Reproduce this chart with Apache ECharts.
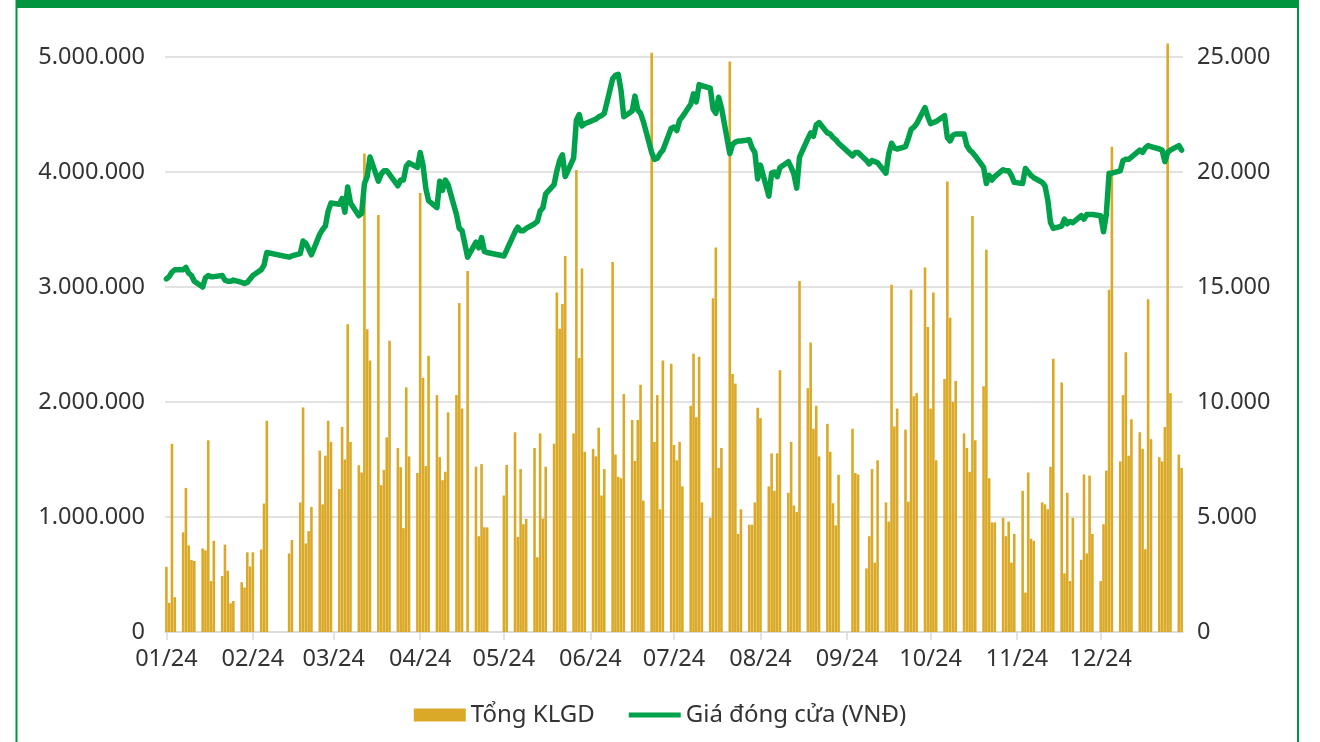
<!DOCTYPE html>
<html>
<head>
<meta charset="utf-8">
<script src="https://cdn.jsdelivr.net/npm/echarts@6/dist/echarts.min.js"></script>
<style>
html,body{margin:0;padding:0;background:#fff;}
#c{width:1320px;height:742px;}
</style>
</head>
<body>
<div id="c"></div>
<script>
// ---- DATA (trading days only, per month, 2024) ----
const seriesNames = ['Tổng KLGD', 'Giá đóng cửa (VNĐ)'];
const holidays = ['2024-02-08','2024-02-09','2024-02-12','2024-02-13','2024-02-14','2024-04-18','2024-04-29','2024-04-30','2024-05-01','2024-09-02','2024-09-03'];
const startDate = '2024-01-02';
const endDate = '2024-12-31';

// Total matched volume (shares)
const volJan = [567000,253000,1637000,303000,867000,1253000,753000,627000,617000,727000,710000,1667000,443000,793000,487000,760000,533000,250000,270000,433000,387000,693000];
const volFeb = [570000,693000,717000,1117000,1837000,683000,800000,1127000,1953000,770000,877000,1087000,1577000,1110000,1533000,1837000];
const volMar = [1653000,1243000,1783000,1500000,2677000,1653000,1450000,1387000,4160000,2633000,2360000,3627000,1277000,1410000,1693000,2533000,1600000,1433000,903000,2127000,1527000];
const volApr = [1383000,3817000,2210000,1443000,2403000,2060000,1520000,1320000,1393000,1910000,2060000,2860000,1943000,3140000,1437000,833000,1460000,910000,910000];
const volMay = [1187000,1453000,1737000,827000,1417000,937000,983000,1600000,650000,1727000,987000,1437000,1637000,2953000,2637000,2853000,3270000,1727000,4017000,2383000,3160000,1567000];
const volJun = [1593000,1527000,1777000,1187000,1417000,3217000,1543000,1350000,1337000,2070000,1843000,1487000,1843000,2150000,1143000,5037000,1653000,2060000,1067000,2360000];
const volJul = [2333000,1627000,1493000,1653000,1267000,1967000,2420000,1867000,2393000,1127000,993000,2903000,3343000,1427000,1600000,4960000,2243000,2160000,853000,1067000,933000,933000,1127000];
const volAug = [1950000,1860000,1267000,1553000,1227000,1553000,2277000,1210000,1653000,1100000,1043000,3053000,2120000,2517000,1767000,1967000,1527000,1810000,1567000,1120000,927000,1367000];
const volSep = [1767000,1383000,1370000,553000,833000,1417000,603000,1493000,1127000,960000,3020000,1787000,1943000,1760000,1133000,2977000,2050000,2077000,3170000];
const volOct = [2653000,1943000,2953000,1493000,2200000,3917000,2733000,2000000,2183000,1727000,1600000,1393000,3617000,1667000,2137000,3323000,1337000,953000,953000,993000,833000,960000,603000];
const volNov = [853000,1227000,343000,1387000,810000,793000,1127000,1110000,1067000,1437000,2377000,2170000,510000,1210000,443000,993000,627000,1370000,683000,1360000,853000];
const volDec = [443000,937000,1403000,2977000,4220000,1483000,2060000,2433000,1533000,1850000,1737000,1593000,720000,2893000,1677000,1520000,1483000,1783000,5117000,2077000,1543000,1427000];

// Closing price (VND)
const pxJan = [15350,15450,15650,15750,15750,15850,15600,15500,15250,15000,15400,15500,15450,15450,15500,15300,15250,15250,15300,15200,15150,15200];
const pxFeb = [15350,15500,15750,15950,16500,16300,16350,16450,17000,16900,16650,16400,17300,17500,17650,18300];
const pxMar = [18650,18600,18850,18250,19350,18650,18100,18200,19500,19800,20650,19600,19900,20050,20050,19900,19400,19650,19650,20250,20400];
const pxApr = [20200,20850,20300,19300,18750,18450,19600,19200,19650,19450,18150,17550,17450,16300,16950,16700,17150,16550,16500];
const pxMay = [16350,16600,17400,17600,17450,17450,17550,17750,17850,18300,18450,19050,19450,20050,20500,20750,19800,20600,22250,22500,22000,22100];
const pxJun = [22250,22300,22400,22450,22550,24050,24200,24250,23550,22400,22650,23300,22700,22550,22200,20850,20550,20600,20800,20950];
const pxJul = [21900,21950,21800,22250,22400,22950,23400,23050,23800,23750,23650,22750,22550,23250,22800,20800,21200,21300,21350,21350,21400,21050,20850];
const pxAug = [19700,20300,18950,19950,20000,19800,20200,20450,20200,19900,19300,20650,21450,21700,21550,22050,22150,21700,21650,21500,21400,21250];
const pxSep = [20700,20850,20850,20500,20350,20500,20450,20400,19950,20800,21250,21050,21000,21100,21450,21850,21950,22100,22800];
const pxOct = [22400,22100,22150,22200,22450,21500,21350,21600,21650,21650,21150,20950,20850,20700,20200,19500,19850,19650,19800,20100,20050,20050,19850];
const pxNov = [19550,19500,20150,20000,19850,19750,19550,19400,18800,17800,17550,17650,17950,17750,17850,17800,18100,17950,18150,18150,18150];
const pxDec = [18100,17400,18150,19950,19950,20050,20500,20550,20550,20650,20950,20850,21050,21150,21100,21000,20950,20450,20850,20950,21150,20950];

const leftTicks = [0, 1000000, 2000000, 3000000, 4000000, 5000000];
const rightTicks = [0, 5000, 10000, 15000, 20000, 25000];

// ---- build calendar-day category axis ----
const volByMonth = [volJan,volFeb,volMar,volApr,volMay,volJun,volJul,volAug,volSep,volOct,volNov,volDec];
const pxByMonth = [pxJan,pxFeb,pxMar,pxApr,pxMay,pxJun,pxJul,pxAug,pxSep,pxOct,pxNov,pxDec];
function pad(n){return n<10?'0'+n:''+n;}
const categories = [], volData = [], pxData = [];
const counters = new Array(12).fill(0);
{
  const d = new Date(startDate + 'T00:00:00Z');
  const end = new Date(endDate + 'T00:00:00Z');
  while (d <= end) {
    const y = d.getUTCFullYear(), m = d.getUTCMonth(), day = d.getUTCDate(), wd = d.getUTCDay();
    const key = y + '-' + pad(m+1) + '-' + pad(day);
    categories.push(key);
    if (wd === 0 || wd === 6 || holidays.indexOf(key) >= 0) {
      volData.push(null); pxData.push(null);
    } else {
      const k = counters[m]++;
      const v = volByMonth[m][k], p = pxByMonth[m][k];
      volData.push(v === undefined ? null : v);
      pxData.push(p === undefined ? null : p);
    }
    d.setUTCDate(d.getUTCDate() + 1);
  }
}
counters.forEach((c,i)=>{ if (c !== volByMonth[i].length || c !== pxByMonth[i].length) console.warn('month', i+1, c, volByMonth[i].length, pxByMonth[i].length); });

function isMonthTick(idx, val){ return val.slice(8,10) === '02'; }
function dots(v){ return String(v).replace(/\B(?=(\d{3})+(?!\d))/g, '.'); }

const FONT = '"Noto Sans", "Open Sans", sans-serif';
const TXT = '#333333';
const GRID = '#d9d9d9';
const BAR = '#daa928';
const LINE = '#00a14b';

const chart = echarts.init(document.getElementById('c'), null, {renderer:'canvas'});
chart.setOption({
  animation: false,
  backgroundColor: '#ffffff',
  textStyle: {fontFamily: FONT},
  graphic: [
    {type:'rect', shape:{x:16, y:0, width:1283, height:8}, style:{fill:'#00963f'}, silent:true},
    {type:'rect', shape:{x:15.5, y:0, width:2, height:742}, style:{fill:'#00963f'}, silent:true},
    {type:'rect', shape:{x:1297, y:0, width:2, height:742}, style:{fill:'#00963f'}, silent:true}
  ],
  grid: {left: 165, right: 137, top: 57, bottom: 110, containLabel: false},
  legend: {
    bottom: 10, left: 'center',
    itemWidth: 52, itemHeight: 13, itemGap: 34,
    textStyle: {fontFamily: FONT, fontSize: 24, color: TXT},
    data: [
      {name: seriesNames[0], icon: 'rect'},
      {name: seriesNames[1], icon: 'path://M0,0 L54,0 L54,5 L0,5 Z'}
    ]
  },
  xAxis: {
    type: 'category',
    data: categories,
    boundaryGap: true,
    axisLine: {show: true, lineStyle: {color: GRID, width: 1.5}},
    axisTick: {show: true, interval: isMonthTick, alignWithLabel: true, length: 8, lineStyle: {color: GRID, width: 1.5}},
    axisLabel: {
      interval: isMonthTick,
      formatter: v => v.slice(5,7) + '/' + v.slice(2,4),
      fontFamily: FONT, fontSize: 23.5, color: TXT, margin: 15
    },
    splitLine: {show: false}
  },
  yAxis: [
    {
      type: 'value', min: leftTicks[0], max: leftTicks[leftTicks.length-1], interval: leftTicks[1]-leftTicks[0],
      axisLine: {show: false}, axisTick: {show: false},
      axisLabel: {formatter: v => dots(v), fontFamily: FONT, fontSize: 23.5, color: TXT, margin: 20},
      splitLine: {show: true, lineStyle: {color: GRID, width: 1.5}}
    },
    {
      type: 'value', min: rightTicks[0], max: rightTicks[rightTicks.length-1], interval: rightTicks[1]-rightTicks[0],
      axisLine: {show: false}, axisTick: {show: false},
      axisLabel: {formatter: v => dots(v), fontFamily: FONT, fontSize: 23.5, color: TXT, margin: 14},
      splitLine: {show: false}
    }
  ],
  series: [
    {
      name: seriesNames[0], type: 'bar', yAxisIndex: 0,
      data: volData, barWidth: 2.6, clip: false,
      itemStyle: {color: BAR}, z: 2
    },
    {
      name: seriesNames[1], type: 'line', yAxisIndex: 1,
      data: pxData, connectNulls: true, showSymbol: false, symbol: 'none',
      lineStyle: {color: LINE, width: 5.5, join: 'round', cap: 'round'},
      itemStyle: {color: LINE}, z: 3
    }
  ]
});
</script>
</body>
</html>
